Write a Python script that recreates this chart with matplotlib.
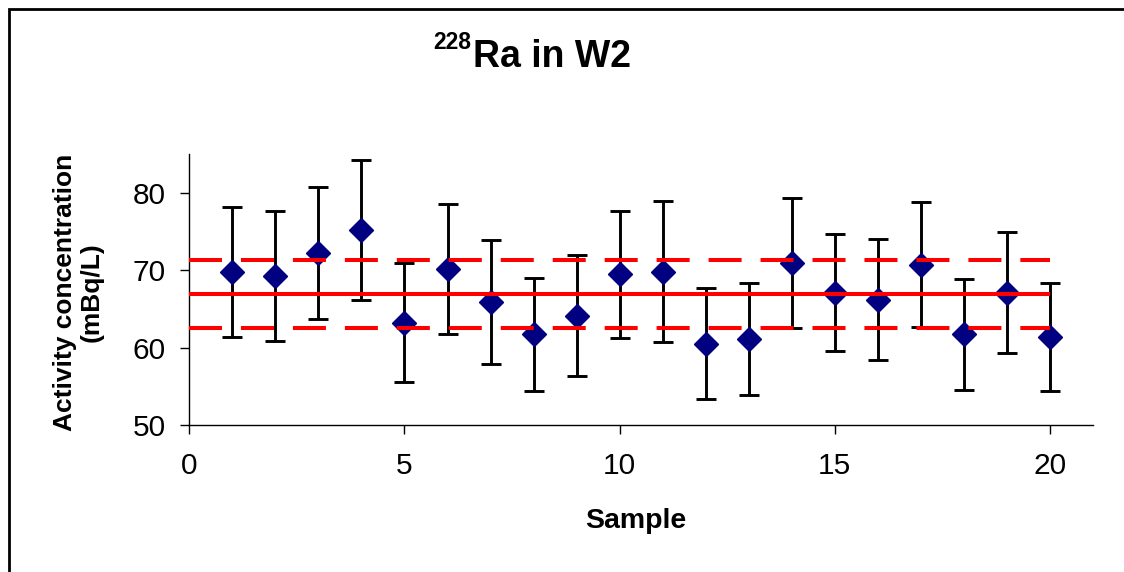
import matplotlib
matplotlib.use("Agg")
import matplotlib.pyplot as plt
from matplotlib.patches import Rectangle

plt.rcParams['font.family'] = ['Liberation Sans', 'DejaVu Sans']

samples = list(range(1, 21))
activity = [69.8, 69.2, 72.2, 75.2, 63.2, 70.1, 65.9, 61.7, 64.1, 69.5,
            69.8, 60.5, 61.1, 70.9, 67.1, 66.2, 70.7, 61.7, 67.1, 61.4]
uncertainty = [8.4, 8.4, 8.5, 9.0, 7.7, 8.4, 8.0, 7.3, 7.8, 8.2,
               9.1, 7.2, 7.2, 8.4, 7.6, 7.8, 8.1, 7.2, 7.8, 7.0]
line_x = [0, 20]
mean_value = 66.9
upper_limit = 71.3
lower_limit = 62.55
x_ticks = [0, 5, 10, 15, 20]
y_ticks = [50, 60, 70, 80]

W, H = 1124, 572
fig = plt.figure(figsize=(W / 100, H / 100), dpi=100)
ax = fig.add_axes([189.3 / W, 1 - 425 / H, (1093 - 189.3) / W, (425 - 154) / H])

ax.errorbar(samples, activity, yerr=uncertainty, fmt='D', color='#000080',
            markersize=12.7, ecolor='black', elinewidth=2.1, capsize=7,
            capthick=2.1, zorder=3)

ax.plot(line_x, [mean_value, mean_value], color='#ff0000', lw=2.9, zorder=4,
        solid_capstyle='butt')
for lim in (upper_limit, lower_limit):
    ax.plot(line_x, [lim, lim], color='#ff0000', lw=2.9, zorder=4,
            dashes=(8.2, 4.7), dash_capstyle='butt')

ax.set_xlim(0, 21)
ax.set_ylim(50, 85)
ax.set_xticks(x_ticks)
ax.set_yticks(y_ticks)
ax.spines['top'].set_visible(False)
ax.spines['right'].set_visible(False)
for s in ('left', 'bottom'):
    ax.spines[s].set_linewidth(1.0)
    ax.spines[s].set_color('black')
ax.tick_params(axis='both', direction='out', length=6.5, width=1,
               labelsize=21.5, colors='black')
ax.tick_params(axis='y', pad=10.5)
ax.tick_params(axis='x', pad=13)

fig.text(636 / W, 1 - 521 / H, 'Sample', ha='center', va='center',
         fontsize=20.5, fontweight='bold')
fig.text(78.5 / W, 1 - 292.5 / H, 'Activity concentration\n(mBq/L)',
         rotation=90, ha='center', va='center', multialignment='center',
         fontsize=19, fontweight='bold', linespacing=1.15)

fig.text(433 / W, 1 - 49.3 / H, '228', ha='left', va='baseline',
         fontsize=16.5, fontweight='bold')
fig.text(473 / W, 1 - 66.7 / H, 'Ra in W2', ha='left', va='baseline',
         fontsize=27, fontweight='bold')

fig.patches.append(Rectangle((8.5 / W, -0.2), 1.5, 1.2 - 8.5 / H,
                             transform=fig.transFigure, fill=False,
                             edgecolor='black', linewidth=2.0))

fig.savefig('out.png', dpi=100)
